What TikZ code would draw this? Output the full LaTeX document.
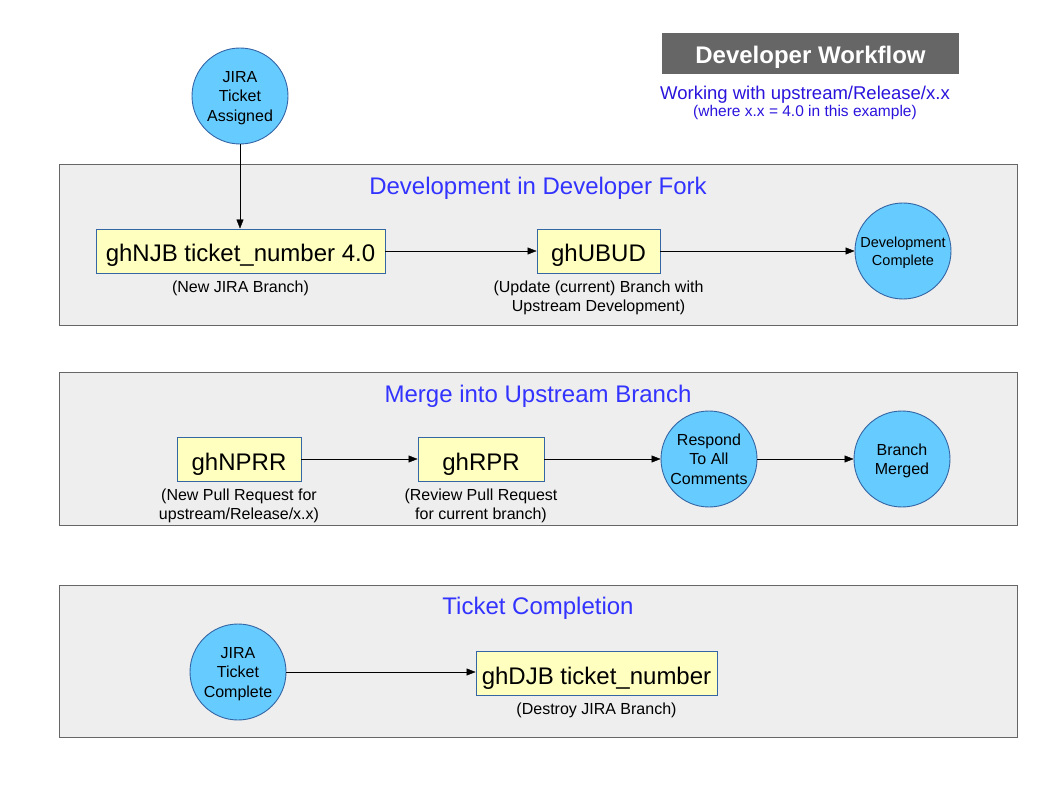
\documentclass[tikz,border=0pt]{standalone}
\usepackage{fontspec}
\setmainfont{Liberation Sans}
\usepackage{xcolor}
\usetikzlibrary{positioning,arrows.meta}

\definecolor{panelfill}{HTML}{EEEEEE}
\definecolor{paneldraw}{HTML}{666666}
\definecolor{titlefill}{HTML}{666666}
\definecolor{blockfill}{HTML}{FFFFC0}
\definecolor{blockdraw}{HTML}{3465A4}
\definecolor{statefill}{HTML}{66CCFF}
\definecolor{headblue}{HTML}{3333FF}
\definecolor{subblue}{HTML}{2A14DC}

\begin{document}
\begin{tikzpicture}[x=1pt, y=-1pt, node distance=7pt,
        panel/.style={draw=paneldraw, fill=panelfill, line width=1pt},
        block/.style={draw=blockdraw, fill=blockfill, line width=0.9pt, rectangle, minimum height=44pt, inner sep=0pt, text height=22pt, text depth=0pt, font=\fontsize{24}{28}\selectfont},
        state/.style={draw=blockdraw, fill=statefill, line width=0.9pt, circle, minimum size=96pt, inner sep=0pt, align=center, text depth=-2.6pt, font=\fontsize{16}{19.5}\selectfont},
        note/.style={align=center, inner sep=0pt, font=\fontsize{16}{19}\selectfont},
        heading/.style={text=headblue, inner sep=0pt, text height=17.2pt, text depth=0pt, font=\fontsize{24}{28}\selectfont},
        >={Triangle[length=9pt,width=7pt]}
    ]
        \useasboundingbox (0,0) rectangle (1058,794);

        % title and subtitle
        \node [fill=titlefill, text=white, minimum width=297pt, minimum height=41pt, inner sep=0pt, text height=21pt, text depth=0pt, font=\fontsize{24}{28}\bfseries] (title) at (810.5,53.5) {Developer Workflow};
        \node [text=subblue, inner sep=0pt, text height=13.3pt, text depth=0pt, font=\fontsize{18.5}{22}\selectfont] (sub) at (805,93) {Working with upstream/Release/x.x};
        \node [text=subblue, inner sep=0pt, text height=11.1pt, text depth=0pt, font=\fontsize{15.5}{18}\selectfont] (subnote) at (805,110.5) {(where x.x = 4.0 in this example)};

        % panels
        \path [panel] (59,165) rectangle (1017,326);
        \path [panel] (59,373) rectangle (1017,525);
        \path [panel] (59,585) rectangle (1017,737);

        \node [heading] (devhead) at (538,185.5) {Development in Developer Fork};
        \node [heading] (mergehead) at (538,394) {Merge into Upstream Branch};
        \node [heading] (donehead) at (538,606) {Ticket Completion};

        % development in developer fork
        \node [state] (assigned) at (240,96) {JIRA\\Ticket\\Assigned};
        \node [block, minimum width=289pt] (njb) at (240.5,251) {ghNJB ticket\_number 4.0};
        \node [note, below=of njb] (njbnote) {(New JIRA Branch)};
        \node [block, minimum width=123pt] (ubud) at (598.5,251) {ghUBUD};
        \node [note, below=of ubud] (ubudnote) {(Update (current) Branch with\\Upstream Development)};
        \node [state, text depth=-1pt, font=\fontsize{14.5}{18}\selectfont] (devdone) at (903,251) {Development\\Complete};

        % merge into upstream branch
        \node [block, minimum width=124pt] (nprr) at (239,459) {ghNPRR};
        \node [note, below=of nprr] (nprrnote) {(New Pull Request for\\upstream/Release/x.x)};
        \node [block, minimum width=126pt] (rpr) at (481,459) {ghRPR};
        \node [note, below=of rpr] (rprnote) {(Review Pull Request\\for current branch)};
        \node [state] (respond) at (709,459) {Respond\\To All\\Comments};
        \node [state] (merged) at (902,459) {Branch\\Merged};

        % ticket completion
        \node [state] (complete) at (238,672) {JIRA\\Ticket\\Complete};
        \node [block, minimum width=241pt] (djb) at (596.5,673) {ghDJB ticket\_number};
        \node [note, below=of djb] (djbnote) {(Destroy JIRA Branch)};

        \draw [->] (assigned) -- (assigned |- njb.north);
        \draw [->] (njb) -- (ubud);
        \draw [->] (ubud) -- (devdone);
        \draw [->] (nprr) -- (rpr);
        \draw [->] (rpr) -- (respond);
        \draw [->] (respond) -- (merged);
        \draw [->] (complete) -- (complete -| djb.west);
    \end{tikzpicture}
\end{document}
